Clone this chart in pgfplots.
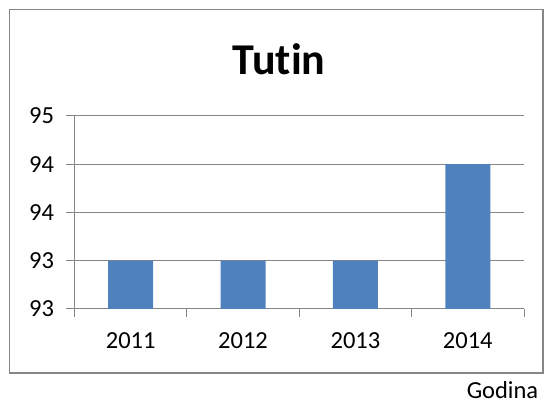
\documentclass[border=0pt]{standalone}
\usepackage{pgfplots}
\pgfplotsset{compat=1.18}
\usepackage{fontspec}
\setmainfont{Carlito}[Ligatures=NoCommon]
\definecolor{barblue}{HTML}{4F81BD}
\definecolor{framegray}{HTML}{868686}
\begin{document}
\begin{tikzpicture}[x=1pt,y=1pt]
\path[use as bounding box] (0,0) rectangle (544,406);
\draw[framegray, line width=1.2pt] (9.5,33) rectangle (543,396.5);
\node[font=\fontsize{44}{50}\selectfont\bfseries, anchor=base] at (279,331) {Tutin};
\begin{axis}[
 at={(74.5pt,97pt)}, anchor=south west, width=449.5pt, height=193pt, scale only axis,
 ymin=92.5, ymax=94.5, ytick={92.5,93,93.5,94,94.5}, yticklabels={93,93,94,94,95},
 xmin=0.5, xmax=4.5, xtick={0.5,1.5,2.5,3.5,4.5}, xticklabels={},
 extra x ticks={1,2,3,4}, extra x tick labels={2011,2012,2013,2014},
 extra x tick style={major tick length=0pt, tick style={draw=none}},
 axis x line*=bottom, axis y line*=left,
 ymajorgrids, grid style={framegray, line width=1pt},
 tick align=outside, major tick length=8pt, tick style={framegray, line width=1pt},
 axis line style={framegray, line width=1pt},
 ticklabel style={font=\fontsize{24.5}{28}\selectfont},
 xticklabel style={yshift=-20pt},
 yticklabel style={xshift=-9pt},
 ybar, bar width=0.4,
]
\addplot[fill=barblue, draw=none] coordinates {(1,93) (2,93) (3,93) (4,94)};
\end{axis}
\node[font=\fontsize{24.5}{28}\selectfont] at (502.5,16) {Godina};
\end{tikzpicture}
\end{document}
